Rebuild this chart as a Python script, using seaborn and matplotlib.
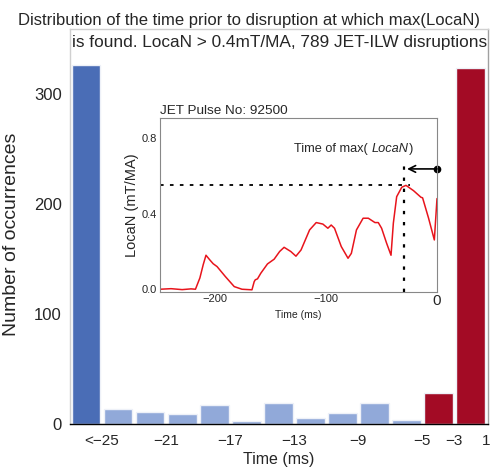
import numpy as np
import pandas as pd
import matplotlib
matplotlib.use("Agg")
import matplotlib.pyplot as plt
import seaborn as sns

sns.set_theme(style="white")
plt.rcParams["font.family"] = ["Liberation Sans", "DejaVu Sans"]

# Histogram: number of disruptions per 2 ms bin of time-before-disruption
bin_ids = [f"b{i}" for i in range(13)]
counts = [326, 14, 11, 9, 17, 3, 19, 5, 10, 19, 4, 28, 324]
bar_colors = ["#4a6db6"] + ["#91a9d9"] * 10 + ["#a30b25"] * 2
edge_labels = ["", "<\u221225", "", "\u221221", "", "\u221217", "", "\u221213",
               "", "\u22129", "", "\u22125", "\u22123", "1"]

# Example trace: JET pulse 92500, LocaN signal before the disruption
trace_t = [-250, -240, -230, -222, -218, -214, -211, -208.5, -205, -202, -198.5,
           -191, -183, -176, -167, -165, -164, -162, -159, -153, -147, -142,
           -138, -132, -127.3, -122.7, -115, -109, -103, -98.5, -95.5, -92.5,
           -86.4, -80.3, -77.3, -72.7, -66.7, -62, -56, -53, -50, -45.5, -41.5,
           -39.4, -36.4, -31.8, -28, -21.2, -14.5, -13, -7.6, -2.4, 0]
trace_v = [0.0, 0.003, -0.002, 0.002, 0.0, 0.06, 0.13, 0.18, 0.155, 0.135, 0.12,
           0.067, 0.014, 0.0, -0.003, 0.04, 0.05, 0.055, 0.085, 0.134, 0.159, 0.2,
           0.222, 0.2, 0.175, 0.208, 0.314, 0.353, 0.345, 0.323, 0.34, 0.323,
           0.226, 0.164, 0.19, 0.314, 0.376, 0.376, 0.353, 0.353, 0.323, 0.244, 0.18,
           0.35, 0.49, 0.54, 0.55, 0.522, 0.487, 0.484, 0.376, 0.261, 0.48]
arrow_level = 0.637

W, H = 491, 472
fig = plt.figure(figsize=(W / 100, H / 100), dpi=100)

# ---- main histogram ----
ax = fig.add_axes([70 / W, 1 - 424 / H, 418 / W, 395 / H])
df = pd.DataFrame({"bin": bin_ids, "count": counts})
sns.barplot(data=df, x="bin", y="count", hue="bin", palette=bar_colors,
            legend=False, width=0.9, edgecolor="#eef1f8", linewidth=1.0,
            saturation=1, ax=ax)
ax.set_xlim(-0.5, 12.55)
ax.set_ylim(0, 359)
ax.set_xticks(np.arange(-0.5, 13.0, 1.0))
ax.set_xticklabels(edge_labels, fontsize=11)
ax.set_yticks([0, 100, 200, 300])
ax.set_yticklabels(["0", "100", "200", "300"], fontsize=12)
ax.tick_params(axis="x", direction="inout", length=6, width=1, color="black", pad=4)
ax.tick_params(axis="y", direction="out", length=4, width=1, color="black", pad=2)
ax.set_xlabel("Time (ms)", fontsize=11.5, labelpad=3)
ax.set_ylabel("Number of occurrences", fontsize=14)
ax.yaxis.set_label_coords(-0.12, 0.48)
for side, col in [("left", "#d0d0d0"), ("top", "#d0d0d0"), ("right", "#a0a0a0")]:
    ax.spines[side].set_color(col)
    ax.spines[side].set_linewidth(1)
ax.spines["bottom"].set_color("black")
ax.spines["bottom"].set_linewidth(1)

fig.text(249 / W, 1 - 20 / H,
         "Distribution of the time prior to disruption at which max(LocaN)",
         ha="center", va="center", fontsize=12)
fig.text(72 / W, 1 - 43 / H,
         "is found. LocaN > 0.4mT/MA, 789 JET-ILW disruptions",
         ha="left", va="center", fontsize=12.4)

# ---- inset: example LocaN trace ----
ins = fig.add_axes([160 / W, 1 - 291.7 / H, 277 / W, 173.4 / H])
sns.lineplot(x=trace_t, y=trace_v, color="#e8141c", linewidth=1.1, ax=ins)
ins.set_xlim(-250, 0)
ins.set_ylim(-0.013, 0.905)
ins.set_xticks([-200, -150, -100, -50, 0])
ins.set_xticklabels(["\u2212200", "", "\u2212100", "", "0"], fontsize=8)
ins.get_xticklabels()[-1].set_fontsize(11)
ins.set_yticks([0.0, 0.2, 0.4, 0.6, 0.8])
ins.set_yticklabels(["0.0", "", "0.4", "", "0.8"], fontsize=8)
ins.tick_params(direction="in", length=4, width=0.8, color="#333333", pad=2)
ins.set_xlabel("Time (ms)", fontsize=7.5, labelpad=1)
ins.set_ylabel("LocaN (mT/MA)", fontsize=10.5, labelpad=2)
for s in ins.spines.values():
    s.set_color("#888888")
    s.set_linewidth(0.8)
ins.set_title("JET Pulse No: 92500", fontsize=9.7, loc="left", pad=3, x=0.0)

i_max = int(np.argmax(trace_v))
t_max, v_max = trace_t[i_max], trace_v[i_max]
ins.plot([-250, t_max + 4], [v_max, v_max], color="black", lw=1.3,
         dashes=(2, 3.5))
ins.plot([t_max - 1.5, t_max - 1.5], [-0.013, arrow_level + 0.015],
         color="black", lw=1.6, dashes=(1.5, 3.5))
ins.annotate("", xy=(t_max + 1, arrow_level), xytext=(0, arrow_level),
             arrowprops=dict(arrowstyle="->", color="black", lw=1.2,
                             mutation_scale=12, shrinkA=0, shrinkB=0))
ins.plot([0], [arrow_level], "o", color="black", markersize=4.5, clip_on=False)

# annotation with italic signal name, pieces laid out side by side
fig.canvas.draw()
renderer = fig.canvas.get_renderer()
x_px, y_px = ins.transData.transform((-129, 0.745))
pieces = [("Time of max( ", "normal"), ("LocaN", "italic"), (")", "normal")]
for txt, st in pieces:
    t = fig.text(x_px / fig.bbox.width, y_px / fig.bbox.height, txt,
                 fontsize=9.2, ha="left", va="center", style=st)
    bb = t.get_window_extent(renderer=renderer)
    x_px = bb.x1 + (1.0 if st == "italic" else 0.0)

fig.savefig("out.png", dpi=100)
